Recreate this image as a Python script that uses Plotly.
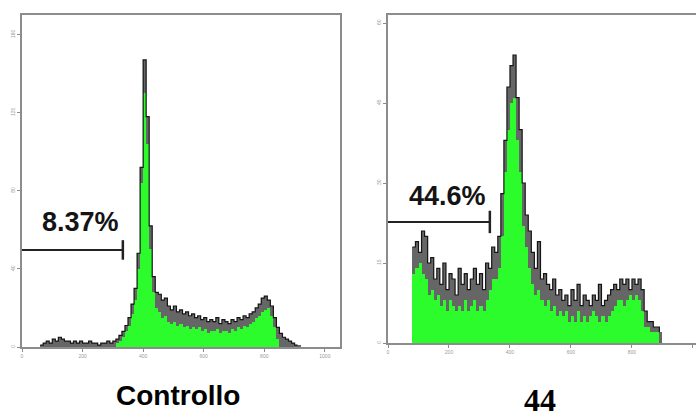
import numpy as np
import plotly.graph_objects as go
from plotly.subplots import make_subplots

# DNA content histograms (channel bins of 10, starting at 0)
bin_width = 10

ctrl_total = [0, 0, 0, 0, 0, 0, 1, 2, 3, 2, 4, 3, 5, 4, 3,
              3, 2, 3, 2, 3, 2, 2, 3, 2, 2, 1, 2, 2, 3, 2,
              3, 4, 6, 8, 11, 15, 22, 30, 48, 92, 147, 118, 62, 36, 28,
              27, 24, 25, 21, 19, 21, 18, 19, 17, 18, 16, 17, 15, 16, 14,
              15, 13, 14, 13, 15, 12, 14, 13, 12, 14, 13, 15, 14, 16, 15,
              17, 18, 20, 22, 25, 26, 24, 21, 15, 10, 7, 5, 4, 3, 2,
              1, 1, 0, 0, 0, 0, 0, 0, 0, 0]
ctrl_gated = [0] * 31 + [2, 3, 5, 8, 11, 17, 24, 40, 84, 130, 104, 50, 28, 20,
              18, 15, 16, 13, 12, 13, 11, 12, 10, 11, 9, 10, 9, 10, 8,
              9, 7, 8, 8, 9, 7, 8, 8, 7, 9, 8, 10, 9, 11, 10,
              12, 13, 15, 16, 18, 19, 20, 16, 10, 4] + [0] * 15

treat_total = [0, 0, 0, 0, 0, 0, 0, 0, 18, 19, 17, 21, 20, 15, 16,
               12, 14, 11, 15, 10, 13, 12, 9, 14, 11, 13, 10, 12, 14, 11,
               13, 10, 15, 14, 18, 17, 20, 28, 38, 48, 52, 54, 46, 40, 30,
               24, 21, 17, 14, 19, 12, 13, 11, 10, 12, 9, 10, 8, 9, 7,
               10, 8, 11, 7, 9, 8, 7, 9, 8, 11, 7, 8, 9, 10, 11,
               10, 12, 11, 12, 10, 12, 11, 12, 10, 6, 4, 4, 3, 3, 2,
               0, 0, 0, 0, 0, 0, 0, 0, 0, 0]
treat_gated = [0, 0, 0, 0, 0, 0, 0, 0, 13, 14, 15, 13, 12, 9, 10,
               8, 9, 7, 8, 6, 8, 7, 6, 7, 6, 8, 6, 7, 8, 6,
               7, 6, 8, 10, 12, 12, 14, 20, 32, 40, 45, 46, 38, 32, 22,
               18, 14, 11, 9, 10, 8, 7, 8, 6, 7, 5, 6, 5, 6, 4,
               5, 4, 6, 4, 5, 4, 5, 6, 5, 4, 5, 4, 5, 6, 7,
               8, 8, 7, 8, 9, 8, 9, 8, 6, 3, 3, 2, 2, 2, 0,
               0, 0, 0, 0, 0, 0, 0, 0, 0, 0]

# sub-G1 marker: channel span, height, and percentage
ctrl_marker = {"end": 333, "level": 49.7, "label": "8.37%"}
treat_marker = {"end": 334, "level": 22.7, "label": "44.6%"}

panel_titles = ["Controllo", "44"]
x_ticks = [0, 200, 400, 600, 800, 1000]
ctrl_y_ticks = [0, 40, 80, 120, 160]
treat_y_ticks = [0, 15, 30, 45, 60]

W, H = 696, 419
fig = make_subplots(rows=1, cols=2)

AXIS = "#8c8c8c"
OUTLINE_FILL = "#666666"
OUTLINE_LINE = "#151515"
GREEN = "#2cfb2c"


def add_hist(total, gated, col):
    total = np.asarray(total, float)
    gated = np.asarray(gated, float)
    starts = np.arange(len(total)) * bin_width
    centers = starts + bin_width / 2
    fig.add_trace(go.Bar(x=centers, y=total, width=bin_width, marker_color=OUTLINE_FILL,
                         marker_line_width=0, showlegend=False), row=1, col=col)
    fig.add_trace(go.Bar(x=centers, y=gated, width=bin_width, marker_color=GREEN,
                         marker_line_width=0, showlegend=False), row=1, col=col)
    step_y = np.where(total > 0, total, np.nan)
    fig.add_trace(go.Scatter(x=np.append(starts, starts[-1] + bin_width),
                             y=np.append(step_y, step_y[-1]),
                             mode="lines", line=dict(color=OUTLINE_LINE, width=1.2, shape="hv"),
                             connectgaps=False, showlegend=False), row=1, col=col)


add_hist(ctrl_total, ctrl_gated, 1)
add_hist(treat_total, treat_gated, 2)


def add_marker(m, col, tick_half, label_y):
    xr = "x" if col == 1 else "x2"
    yr = "y" if col == 1 else "y2"
    fig.add_trace(go.Scatter(x=[0, m["end"]], y=[m["level"], m["level"]], mode="lines",
                             line=dict(color="#222222", width=2), showlegend=False,
                             xaxis=xr, yaxis=yr))
    fig.add_trace(go.Scatter(x=[m["end"], m["end"]],
                             y=[m["level"] - tick_half, m["level"] + tick_half], mode="lines",
                             line=dict(color="#222222", width=2.5), showlegend=False,
                             xaxis=xr, yaxis=yr))
    fig.add_annotation(x=m["end"] * 0.58, y=label_y, xref=xr, yref=yr, text="<b>" + m["label"] + "</b>",
                       xanchor="center", yanchor="middle",
                       showarrow=False, font=dict(family="Liberation Sans", size=27,
                                                  color="#141414"))


add_marker(ctrl_marker, 1, 5.0, 64)
add_marker(treat_marker, 2, 2.1, 27.5)

tick_font = dict(family="Liberation Sans", size=5, color="#9a9a9a")
common = dict(showline=True, linecolor=AXIS, linewidth=2, showgrid=False, zeroline=False,
              ticks="outside", ticklen=3, tickcolor=AXIS, tickfont=tick_font)

fig.update_layout(
    width=W, height=H, margin=dict(l=0, r=0, t=0, b=0),
    paper_bgcolor="white", plot_bgcolor="white",
    barmode="overlay", bargap=0, showlegend=False,
    xaxis=dict(domain=[22 / W, 340 / W], range=[0, 1050], tickvals=x_ticks, mirror=True, **common),
    yaxis=dict(domain=[72 / H, 404 / H], range=[0, 170], tickvals=ctrl_y_ticks, tickangle=-90,
               mirror=True, **common),
    xaxis2=dict(domain=[388 / W, 1.0], range=[0, 1010], tickvals=x_ticks, mirror=True, **common),
    yaxis2=dict(domain=[76 / H, 404 / H], range=[0, 61.5], tickvals=treat_y_ticks, tickangle=-90,
                mirror=False, **common),
)

fig.add_annotation(x=178 / W, y=1 - 395 / H, xref="paper", yref="paper", text="<b>Controllo</b>",
                   xanchor="center", yanchor="middle", showarrow=False,
                   font=dict(family="Liberation Sans", size=28, color="black"))
fig.add_annotation(x=540 / W, y=1 - 400 / H, xref="paper", yref="paper", text="<b>44</b>",
                   xanchor="center", yanchor="middle", showarrow=False,
                   font=dict(family="'Times New Roman', 'Liberation Serif', 'DejaVu Serif', serif",
                             size=32, color="black"))

fig.write_html("out.html")
